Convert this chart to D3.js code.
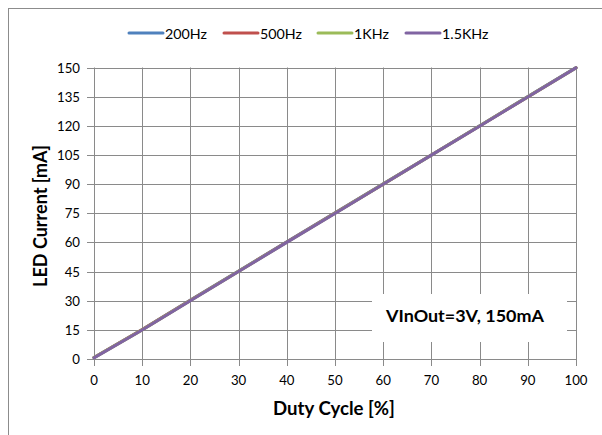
<!DOCTYPE html>
<html><head><meta charset="utf-8">
<script src="https://cdn.jsdelivr.net/npm/d3@7"></script>
<style>body{margin:0;background:#fff}svg{display:block}text{font-family:Lato,"Open Sans",sans-serif}</style>
</head><body><svg id="c" width="602" height="435"></svg>
<script>
const dutyCycle = [0,10,20,30,40,50,60,70,80,90,100];
const seriesNames = ["200Hz","500Hz","1KHz","1.5KHz"];
const i200Hz  = [0.8,15.2,30.3,45.3,60.3,75.2,90.1,105.0,120.0,135.0,150.0];
const i500Hz  = [0.8,15.1,30.2,45.2,60.2,75.1,90.0,105.0,119.9,134.9,149.9];
const i1KHz   = [0.7,15.0,30.1,45.1,60.1,75.0,90.0,104.9,119.9,134.9,149.8];
const i1_5KHz = [0.6,14.9,30.0,45.0,60.0,74.9,89.9,104.9,119.8,134.8,149.8];
const xTicks = [0,10,20,30,40,50,60,70,80,90,100];
const yTicks = [0,15,30,45,60,75,90,105,120,135,150];
const colors = ["#4F81BD","#C0504D","#9BBB59","#8064A2"];
const annotation = "VInOut=3V, 150mA";

const svg = d3.select("#c");
svg.append("rect").attr("x",8.5).attr("y",8.5).attr("width",700).attr("height",500)
  .attr("fill","#fff").attr("stroke","#8c8c8c").attr("stroke-width",1);

// fit font size so a sample string has a target width
function fitSize(str, target, weight){
  const t = svg.append("text").attr("font-size",20).attr("font-weight",weight||"normal").text(str);
  const w = t.node().getComputedTextLength(); t.remove();
  return 20*target/w;
}
const tickFs = fitSize("100",23);
const legFs = fitSize("200Hz",42);
const annFs = fitSize(annotation,158,"bold");
const xtFs = fitSize("Duty Cycle [%]",122,"bold");
const ytFs = fitSize("LED Current [mA]",142,"bold");

const L=94, R=576, T=67.5, B=359;
const x = d3.scaleLinear().domain([0,100]).range([L,R]);
const y = d3.scaleLinear().domain([0,150]).range([B,T]);
const grid="#8a8a8a";

svg.append("g").selectAll("line").data(yTicks).join("line")
  .attr("x1",L-7).attr("x2",R).attr("y1",d=>Math.round(y(d))+0.5).attr("y2",d=>Math.round(y(d))+0.5)
  .attr("stroke",grid).attr("stroke-width",1);
svg.append("g").selectAll("line").data(xTicks).join("line")
  .attr("y1",T).attr("y2",B+7).attr("x1",d=>Math.round(x(d))+0.5).attr("x2",d=>Math.round(x(d))+0.5)
  .attr("stroke",grid).attr("stroke-width",1);

svg.append("rect").attr("x",372).attr("y",294).attr("width",195).attr("height",48).attr("fill","#fff");
svg.append("text").attr("x",465).attr("y",322).attr("text-anchor","middle")
  .attr("font-size",annFs).attr("font-weight","bold").attr("fill","#000").text(annotation);

svg.append("g").selectAll("text").data(yTicks).join("text")
  .attr("x",80).attr("y",d=>y(d)+5).attr("text-anchor","end").attr("font-size",tickFs).attr("fill","#000").text(d=>d);
svg.append("g").selectAll("text").data(xTicks).join("text")
  .attr("x",d=>x(d)).attr("y",385).attr("text-anchor","middle").attr("font-size",tickFs).attr("fill","#000").text(d=>d);

svg.append("text").attr("transform",`translate(46.5,216) rotate(-90)`).attr("text-anchor","middle")
  .attr("font-size",ytFs).attr("font-weight","bold").text("LED Current [mA]");
svg.append("text").attr("x",334).attr("y",415).attr("text-anchor","middle")
  .attr("font-size",xtFs).attr("font-weight","bold").text("Duty Cycle [%]");

const all=[i200Hz,i500Hz,i1KHz,i1_5KHz];
const line=d3.line().x((d,i)=>x(dutyCycle[i])).y(d=>y(d));
all.forEach((s,k)=>{
  svg.append("path").datum(s).attr("d",line).attr("fill","none").attr("stroke",colors[k])
    .attr("stroke-width",3).attr("stroke-linecap","round");
});

const legX=[129,224,318,406];
seriesNames.forEach((n,k)=>{
  svg.append("line").attr("x1",legX[k]).attr("x2",legX[k]+34).attr("y1",33).attr("y2",33)
    .attr("stroke",colors[k]).attr("stroke-width",3).attr("stroke-linecap","round");
  svg.append("text").attr("x",legX[k]+36).attr("y",39).attr("font-size",legFs).attr("fill","#000").text(n);
});
</script></body></html>
